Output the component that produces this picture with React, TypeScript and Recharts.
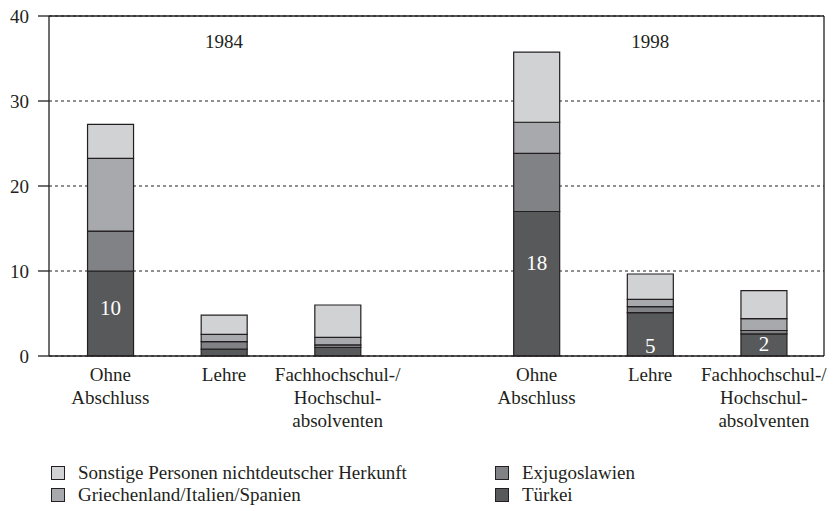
import React from 'react';
import { BarChart, Bar, XAxis, YAxis, CartesianGrid, ReferenceLine, ReferenceDot, LabelList } from 'recharts';

// x positions of the six bars (two groups of three, with a gap between)
const positions = [1, 2, 3, 4.75, 5.75, 6.75];
const categoryLines: string[][] = [
  ['Ohne', 'Abschluss'],
  ['Lehre'],
  ['Fachhochschul-/', 'Hochschul-', 'absolventen'],
  ['Ohne', 'Abschluss'],
  ['Lehre'],
  ['Fachhochschul-/', 'Hochschul-', 'absolventen'],
];
const tuerkei = [10, 0.8, 1.0, 17, 5.1, 2.6];
const exjugoslawien = [4.7, 0.9, 0.3, 6.85, 0.7, 0.4];
const griechenland = [8.55, 0.85, 0.9, 3.65, 0.87, 1.4];
const sonstige = [4.0, 2.25, 3.8, 8.25, 2.98, 3.3];
const tuerkeiLabels = ['10', '', '', '18', '5', '2'];
const tuerkeiLabelAt = [5.6, 0, 0, 11, 1.2, 1.4];
const years = ['1984', '1998'];
const yearX = [2, 5.75];
const yTicks = [0, 10, 20, 30, 40];

const seriesNames = {
  sonstige: 'Sonstige Personen nichtdeutscher Herkunft',
  griechenland: 'Griechenland/Italien/Spanien',
  exjugoslawien: 'Exjugoslawien',
  tuerkei: 'Türkei',
};
const colors = {
  sonstige: '#d1d2d4',
  griechenland: '#a7a9ac',
  exjugoslawien: '#808285',
  tuerkei: '#58595b',
};

const data = positions.map((p, i) => ({
  x: p,
  tuerkei: tuerkei[i],
  exjugoslawien: exjugoslawien[i],
  griechenland: griechenland[i],
  sonstige: sonstige[i],
  label: tuerkeiLabels[i],
  labelAt: tuerkeiLabelAt[i],
}));

const INK = '#231f20';
const FONT = 'Liberation Serif, DejaVu Serif, serif';
const textStyle = { fontFamily: FONT };

const XTick = (props: any) => {
  const { x, y, payload } = props;
  const idx = positions.indexOf(payload.value);
  const lines = idx >= 0 ? categoryLines[idx] : [];
  return (
    <text x={x} y={y} textAnchor="middle" fill={INK} fontSize={19} fontFamily={FONT} style={textStyle}>
      {lines.map((l, i) => (
        <tspan key={i} x={x} dy={i === 0 ? 17 : 23} fontFamily={FONT}>{l}</tspan>
      ))}
    </text>
  );
};

const YTick = (props: any) => {
  const { x, y, payload } = props;
  return (
    <text x={x} y={y} textAnchor="end" dominantBaseline="central" fill={INK} fontSize={19} fontFamily={FONT} style={textStyle}>
      {payload.value}
    </text>
  );
};

const InBarLabel = (props: any) => {
  const { x, y, width, height, index } = props;
  const d = data[index];
  if (!d || !d.label) return null;
  const cy = y + height - (d.labelAt / d.tuerkei) * height;
  return (
    <text x={x + width / 2} y={cy} textAnchor="middle" dominantBaseline="central" fill="#ffffff" fontSize={21} fontFamily={FONT} style={textStyle}>
      {d.label}
    </text>
  );
};

const YearLabel = (props: any) => {
  const { viewBox, value } = props;
  const cx = viewBox.x + (viewBox.width || 0) / 2;
  const cy = viewBox.y + (viewBox.height || 0) / 2;
  return (
    <text x={cx} y={cy} textAnchor="middle" dominantBaseline="central" fill={INK} fontSize={19} fontFamily={FONT} style={textStyle}>
      {value}
    </text>
  );
};

const legendItems = [
  { key: 'sonstige', col: 0, row: 0 },
  { key: 'griechenland', col: 0, row: 1 },
  { key: 'exjugoslawien', col: 1, row: 0 },
  { key: 'tuerkei', col: 1, row: 1 },
];

export default function App() {
  return (
    <div style={{ position: 'absolute', left: 0, top: 0, width: 833, height: 511, background: '#fff', fontFamily: FONT }}>
      <BarChart
        width={833}
        height={511}
        data={data}
        margin={{ top: 16, right: 9, left: 9, bottom: 55 }}
        barSize={46}
        style={textStyle}
      >
        <CartesianGrid vertical={false} stroke={INK} strokeDasharray="3 3" strokeWidth={1} />
        <XAxis
          dataKey="x"
          type="number"
          domain={[0.46, 7.28]}
          ticks={positions}
          allowDataOverflow
          tickLine={false}
          axisLine={{ stroke: INK, strokeWidth: 1.3 }}
          tick={<XTick />}
          height={100}
          interval={0}
        />
        <YAxis
          domain={[0, 40]}
          ticks={yTicks}
          width={40}
          tickSize={11}
          tickMargin={9}
          tickLine={{ stroke: INK, strokeWidth: 1.3 }}
          axisLine={{ stroke: INK, strokeWidth: 1.3 }}
          tick={<YTick />}
        />
        <ReferenceLine y={40} stroke={INK} strokeWidth={1.3} />
        <ReferenceLine x={7.28} stroke={INK} strokeWidth={1.3} />
        <Bar dataKey="tuerkei" stackId="a" fill={colors.tuerkei} stroke={INK} strokeWidth={1.2} isAnimationActive={false}>
          <LabelList dataKey="label" content={<InBarLabel />} />
        </Bar>
        <Bar dataKey="exjugoslawien" stackId="a" fill={colors.exjugoslawien} stroke={INK} strokeWidth={1.2} isAnimationActive={false} />
        <Bar dataKey="griechenland" stackId="a" fill={colors.griechenland} stroke={INK} strokeWidth={1.2} isAnimationActive={false} />
        <Bar dataKey="sonstige" stackId="a" fill={colors.sonstige} stroke={INK} strokeWidth={1.2} isAnimationActive={false} />
        {years.map((yr, i) => (
          <ReferenceDot
            key={yr}
            x={yearX[i]}
            y={37}
            r={0}
            fill="none"
            stroke="none"
            label={<YearLabel value={yr} />}
          />
        ))}
      </BarChart>
      {legendItems.map((it) => (
        <div
          key={it.key}
          style={{
            position: 'absolute',
            left: it.col === 0 ? 51 : 495,
            top: it.row === 0 ? 462 : 484,
            display: 'flex',
            alignItems: 'center',
            height: 22,
            fontSize: 19,
            color: INK,
            whiteSpace: 'nowrap',
          }}
        >
          <span
            style={{
              display: 'inline-block',
              width: 12,
              height: 12,
              background: (colors as any)[it.key],
              border: `1.3px solid ${INK}`,
              marginRight: 13,
            }}
          />
          <span>{(seriesNames as any)[it.key]}</span>
        </div>
      ))}
    </div>
  );
}
